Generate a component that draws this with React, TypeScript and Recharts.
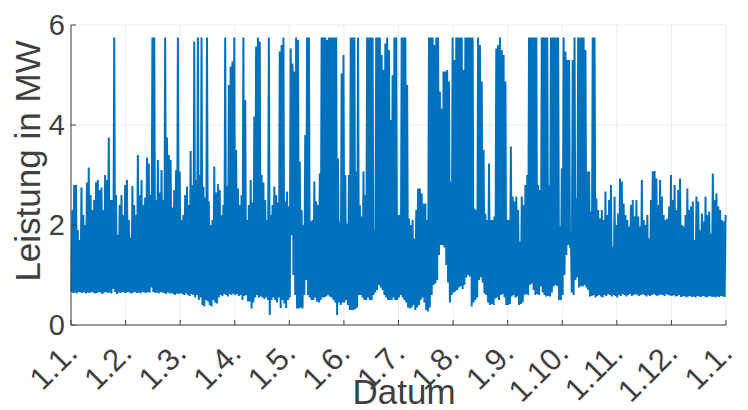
import { LineChart, Line, XAxis, YAxis, CartesianGrid, Label } from 'recharts'

// daily peak power in MW, one row per month (30 readings each)
const dailyPeak = [
  [2.3, 2.8, 2.8, 1.9, 1.7, 2.75, 2.2, 2.0, 2.85, 3.15, 2.6, 2.3, 2.5, 2.85, 2.9, 2.7, 2.75, 2.3, 3.0, 2.9, 3.75, 2.5, 2.5, 5.75, 2.6, 1.8, 2.4, 2.6, 2.2, 2.8],
  [2.9, 2.1, 1.75, 2.78, 2.4, 2.2, 3.4, 2.6, 2.9, 2.4, 2.55, 3.35, 3.23, 2.6, 5.75, 5.75, 2.5, 3.3, 2.65, 3.1, 2.5, 5.75, 3.75, 3.4, 3.3, 2.35, 2.7, 3.1, 5.75, 3.07],
  [2.1, 2.2, 2.6, 2.77, 2.4, 3.48, 2.8, 5.67, 2.9, 5.75, 3.0, 5.75, 2.77, 2.55, 5.75, 2.47, 2.0, 2.1, 3.17, 2.65, 2.82, 2.7, 2.2, 2.4, 5.75, 2.78, 4.8, 5.17, 5.27, 5.75],
  [3.5, 2.73, 2.4, 2.6, 5.75, 4.5, 2.1, 2.4, 2.9, 2.45, 4.17, 5.57, 5.75, 5.67, 3.0, 2.85, 2.5, 2.1, 5.75, 2.2, 2.4, 2.77, 2.6, 2.45, 5.47, 5.6, 5.75, 2.47, 2.67, 2.37],
  [5.53, 5.23, 5.07, 5.75, 5.7, 3.27, 2.3, 2.0, 3.8, 5.75, 5.75, 2.07, 2.1, 2.87, 2.47, 2.4, 3.03, 5.75, 5.75, 5.75, 5.7, 5.75, 5.75, 5.75, 5.75, 5.75, 3.33, 2.07, 5.03, 5.4],
  [3.0, 2.03, 3.0, 5.75, 5.75, 5.75, 3.07, 5.75, 2.4, 2.17, 3.07, 2.6, 5.75, 5.75, 5.75, 5.75, 1.9, 5.75, 5.75, 5.75, 5.4, 5.1, 5.63, 5.75, 5.5, 4.1, 5.0, 5.75, 5.75, 2.2],
  [2.2, 5.75, 5.75, 5.75, 4.8, 2.13, 2.0, 2.1, 1.73, 2.3, 2.73, 2.73, 2.63, 2.43, 2.43, 2.1, 5.75, 5.75, 5.75, 5.6, 5.75, 5.75, 4.67, 4.33, 5.07, 5.07, 5.1, 4.87, 2.87, 5.75],
  [5.3, 5.75, 5.75, 5.75, 5.75, 5.1, 5.75, 5.75, 5.75, 5.75, 5.75, 2.33, 2.3, 5.75, 5.6, 4.87, 3.5, 2.23, 2.1, 3.23, 2.1, 2.1, 2.17, 5.53, 5.6, 5.75, 5.5, 5.4, 4.87, 2.1],
  [2.1, 3.57, 2.57, 2.47, 2.57, 2.3, 1.67, 2.57, 2.4, 2.8, 3.0, 5.75, 5.75, 5.75, 5.75, 5.75, 2.8, 2.7, 5.75, 5.75, 5.75, 5.75, 2.8, 5.75, 5.75, 5.75, 5.75, 5.75, 1.97, 3.13],
  [5.75, 5.47, 5.3, 5.3, 1.8, 5.3, 5.75, 2.53, 5.75, 5.75, 5.75, 5.75, 5.5, 3.07, 3.07, 2.27, 5.75, 5.75, 2.53, 2.3, 2.13, 2.3, 2.1, 2.67, 2.2, 2.5, 2.8, 1.57, 2.57, 2.0],
  [2.23, 2.93, 2.87, 2.43, 2.2, 2.1, 1.97, 2.4, 2.5, 2.17, 2.5, 2.17, 1.97, 2.9, 2.1, 2.0, 2.2, 1.73, 2.5, 3.07, 3.08, 2.93, 2.4, 2.9, 2.57, 2.2, 2.1, 2.13, 2.37, 3.0],
  [2.5, 2.8, 2.3, 2.7, 2.93, 2.0, 1.97, 2.2, 2.73, 2.3, 2.37, 2.47, 1.7, 2.57, 2.47, 1.9, 2.23, 2.07, 2.57, 2.2, 2.27, 1.83, 3.03, 2.5, 2.63, 2.37, 2.3, 2.1, 2.07, 2.2],
]

// daily base load in MW, same layout
const dailyBase = [
  [0.66, 0.64, 0.65, 0.63, 0.66, 0.65, 0.64, 0.66, 0.63, 0.65, 0.64, 0.66, 0.65, 0.63, 0.64, 0.66, 0.65, 0.62, 0.65, 0.66, 0.64, 0.65, 0.63, 0.72, 0.66, 0.62, 0.65, 0.64, 0.66, 0.65],
  [0.64, 0.66, 0.65, 0.63, 0.65, 0.66, 0.64, 0.65, 0.63, 0.66, 0.65, 0.64, 0.66, 0.65, 0.75, 0.66, 0.64, 0.65, 0.63, 0.66, 0.65, 0.64, 0.62, 0.65, 0.63, 0.64, 0.62, 0.6, 0.63, 0.62],
  [0.64, 0.62, 0.6, 0.63, 0.6, 0.58, 0.62, 0.6, 0.55, 0.6, 0.5, 0.55, 0.4, 0.37, 0.5, 0.47, 0.4, 0.37, 0.5, 0.45, 0.43, 0.55, 0.6, 0.58, 0.62, 0.6, 0.57, 0.62, 0.6, 0.63],
  [0.6, 0.62, 0.58, 0.6, 0.5, 0.58, 0.6, 0.47, 0.47, 0.33, 0.45, 0.55, 0.6, 0.55, 0.57, 0.55, 0.52, 0.55, 0.5, 0.2, 0.5, 0.55, 0.5, 0.45, 0.55, 0.34, 0.5, 0.43, 0.34, 0.5],
  [0.55, 1.8, 1.0, 0.6, 0.33, 0.33, 0.35, 0.33, 0.6, 0.9, 0.6, 0.55, 0.5, 0.5, 0.55, 0.47, 0.45, 0.5, 0.55, 0.55, 0.57, 0.6, 0.57, 0.55, 0.5, 0.45, 0.2, 0.45, 0.4, 0.45],
  [0.45, 0.5, 0.4, 0.3, 0.3, 0.3, 0.32, 0.35, 0.6, 0.6, 0.55, 0.5, 0.5, 0.55, 0.5, 0.5, 0.6, 0.65, 0.7, 0.8, 0.75, 0.7, 0.6, 0.55, 0.5, 0.5, 0.5, 0.55, 0.5, 0.5],
  [0.55, 0.6, 0.55, 0.5, 0.45, 0.35, 0.33, 0.35, 0.4, 0.3, 0.35, 0.4, 0.5, 0.55, 0.45, 0.3, 0.27, 0.35, 0.6, 0.8, 0.83, 0.9, 1.4, 1.6, 1.6, 1.55, 1.2, 0.85, 0.45, 0.6],
  [0.65, 0.67, 0.7, 0.75, 0.78, 0.72, 0.8, 0.95, 1.0, 0.97, 0.37, 0.45, 0.5, 0.55, 0.9, 0.95, 0.85, 0.63, 0.6, 0.45, 0.4, 0.42, 0.4, 0.53, 0.55, 0.5, 0.6, 0.62, 0.55, 0.4],
  [0.4, 0.42, 0.57, 0.6, 0.55, 0.57, 0.4, 0.42, 0.45, 0.6, 0.62, 0.6, 0.8, 0.83, 0.7, 0.6, 0.62, 0.6, 0.77, 0.65, 0.6, 0.57, 0.58, 0.57, 0.65, 0.77, 0.8, 0.78, 0.5, 0.5],
  [0.6, 1.0, 1.4, 1.6, 1.55, 0.65, 0.6, 0.9, 0.95, 0.75, 0.78, 0.77, 0.8, 0.75, 0.7, 0.57, 0.58, 0.6, 0.55, 0.58, 0.6, 0.57, 0.55, 0.6, 0.58, 0.62, 0.6, 0.57, 0.6, 0.58],
  [0.55, 0.6, 0.58, 0.62, 0.6, 0.57, 0.6, 0.62, 0.58, 0.6, 0.62, 0.6, 0.58, 0.6, 0.62, 0.6, 0.57, 0.6, 0.58, 0.6, 0.62, 0.6, 0.58, 0.6, 0.61, 0.6, 0.58, 0.62, 0.6, 0.59],
  [0.58, 0.6, 0.57, 0.58, 0.6, 0.56, 0.57, 0.58, 0.55, 0.57, 0.58, 0.56, 0.57, 0.55, 0.58, 0.57, 0.56, 0.58, 0.57, 0.55, 0.57, 0.58, 0.56, 0.57, 0.55, 0.57, 0.56, 0.58, 0.57, 0.56],
]

const monthLabels = ['1.1.', '1.2.', '1.3.', '1.4.', '1.5.', '1.6.', '1.7.', '1.8.', '1.9.', '1.10.', '1.11.', '1.12.', '1.1.']
const monthTicks = monthLabels.map((_, i) => i * 30)
const yTicks = [0, 2, 4, 6]

// base and peak of each day alternate, so the trace zig-zags like the raw signal
const data: { t: number; p: number }[] = []
dailyPeak.forEach((row, m) => {
  row.forEach((peak, d) => {
    const day = m * 30 + d
    data.push({ t: day + 0.25, p: dailyBase[m][d] })
    data.push({ t: day + 0.75, p: peak })
  })
})

const ink = '#404040'
const font = '"Liberation Sans", Arial, Helvetica, sans-serif'

function MonthTick({ x, y, payload }: any) {
  const label = monthLabels[Math.round(payload.value / 30)]
  const ax = x + 8
  return (
    <text x={ax} y={y} transform={`rotate(-45 ${ax} ${y})`} textAnchor="end" fontSize={31} fill={ink} fontFamily={font}>
      {label}
    </text>
  )
}

export default function App() {
  return (
    <div style={{ position: 'absolute', left: 0, top: 0, width: 748, height: 410, background: '#fff', fontFamily: font }}>
      <LineChart width={748} height={410} data={data} margin={{ top: 25, right: 22, bottom: 0, left: 0 }}>
        <CartesianGrid stroke="#ebebeb" strokeWidth={1} />
        <XAxis
          dataKey="t" type="number" domain={[0, 360]} ticks={monthTicks} interval={0}
          height={85} tickSize={-5} tickMargin={35}
          axisLine={{ stroke: ink }} tickLine={{ stroke: ink }}
          tick={<MonthTick />}
        >
          <Label content={() => (
            <text x={404} y={404} textAnchor="middle" fontSize={35} fill={ink} fontFamily={font}>Datum</text>
          )} />
        </XAxis>
        <XAxis
          xAxisId="top" orientation="top" dataKey="t" type="number" domain={[0, 360]} ticks={monthTicks} interval={0}
          height={0} tickSize={-5} tick={false} axisLine={{ stroke: ink }} tickLine={{ stroke: ink }}
        />
        <YAxis
          domain={[0, 6]} ticks={yTicks} width={71} tickSize={-5} tickMargin={11} interval={0}
          axisLine={{ stroke: ink }} tickLine={{ stroke: ink }}
          tick={{ fontSize: 29, fill: ink, fontFamily: font }}
        >
          <Label content={() => (
            <text x={40} y={161} transform="rotate(-90 40 161)" textAnchor="middle" fontSize={35} fill={ink} fontFamily={font}>Leistung in MW</text>
          )} />
        </YAxis>
        <YAxis
          yAxisId="right" orientation="right" domain={[0, 6]} ticks={yTicks} width={0} interval={0}
          tickSize={-5} tick={false} axisLine={{ stroke: ink }} tickLine={{ stroke: ink }}
        />
        <Line
          type="linear" dataKey="p" stroke="#0072BD" strokeWidth={2}
          dot={false} isAnimationActive={false}
        />
      </LineChart>
    </div>
  )
}
